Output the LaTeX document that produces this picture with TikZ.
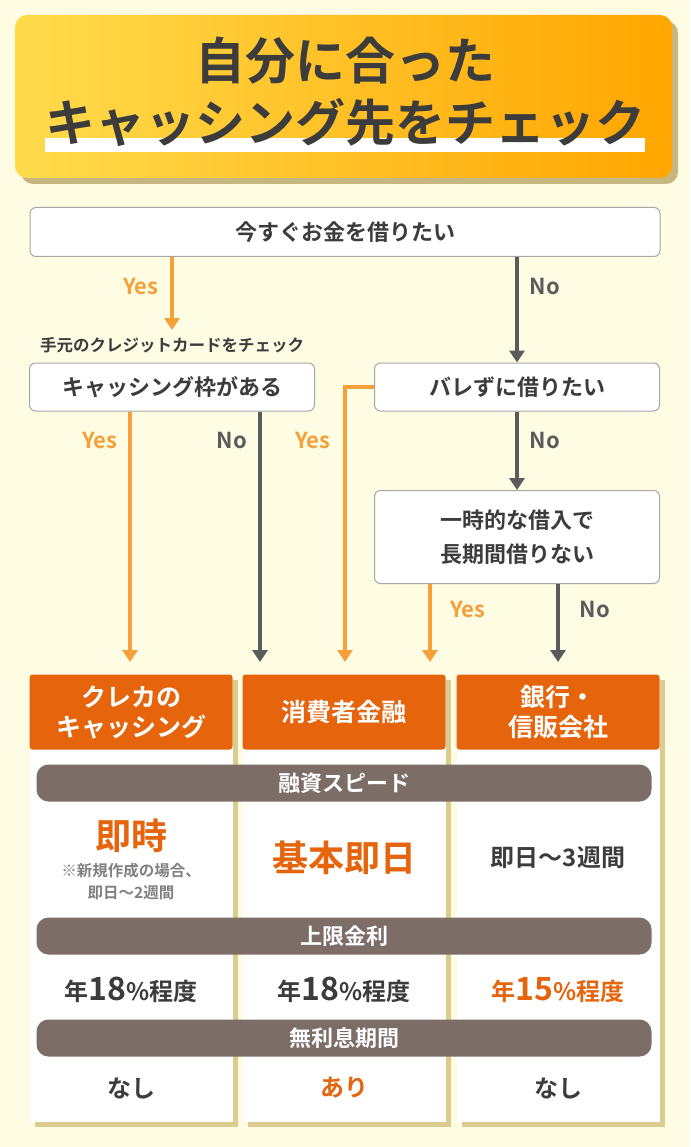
\documentclass[tikz,border=0pt]{standalone}
\usepackage{fontspec}
\setmainfont{Noto Sans CJK JP}[BoldFont={Noto Sans CJK JP Bold}]
\usetikzlibrary{arrows.meta,positioning}
\definecolor{bgcol}{HTML}{FEFCE3}
\definecolor{yesorange}{HTML}{F6A03C}
\definecolor{nogray}{HTML}{5B5B5B}
\definecolor{headorange}{HTML}{E5640C}
\definecolor{barbrown}{HTML}{7C6E67}
\definecolor{tan}{HTML}{DCCB8E}
\definecolor{txtdark}{HTML}{3C3C3C}
\tikzset{
  qbox/.style={draw=gray!70,fill=white,rounded corners=6pt,line width=1pt,font=\bfseries\fontsize{22}{26}\selectfont,text=txtdark,align=center},
  yes/.style={yesorange,line width=3.5pt,-{Triangle[width=15pt,length=12pt]}},
  no/.style={nogray,line width=3.5pt,-{Triangle[width=15pt,length=12pt]}},
  yeslbl/.style={text=yesorange,font=\bfseries\fontsize{22}{24}\selectfont},
  nolbl/.style={text=nogray,font=\bfseries\fontsize{22}{24}\selectfont},
  head/.style={fill=headorange,rounded corners=3pt,minimum width=203pt,minimum height=75pt,text=white,font=\bfseries\fontsize{25}{30}\selectfont,align=center},
  bar/.style={fill=barbrown,rounded corners=12pt,minimum width=615pt,minimum height=37pt,text=white,font=\bfseries\fontsize{22}{24}\selectfont},
  cell/.style={font=\bfseries\fontsize{24}{28}\selectfont,text=txtdark},
}
\begin{document}
\begin{tikzpicture}[x=1pt,y=-1pt]
\useasboundingbox (0,0) rectangle (690,1147);
\fill[bgcol] (0,0) rectangle (690,1147);

% title banner
\fill[tan!90!black,rounded corners=12pt] (21,21) rectangle (678,184);
\shade[rounded corners=12pt,shading angle=135,left color=yellow!60!orange!70,right color=orange!70!yellow] (15,15) rectangle (672,178);
\fill[white] (45,138) rectangle (645,152);
\node[font=\bfseries\fontsize{50}{62}\selectfont,text=txtdark,align=center] (title) at (345,92) {自分に合った\\キャッシング先をチェック};

% questions
\node[qbox,minimum width=630pt,minimum height=49pt] (q1) at (345,232) {今すぐお金を借りたい};
\node[qbox,minimum width=285pt,minimum height=48pt] (q2) at (172,387) {キャッシング枠がある};
\node[qbox,minimum width=285pt,minimum height=48pt] (q3) at (517,387) {バレずに借りたい};
\node[qbox,minimum width=285pt,minimum height=93pt,font=\bfseries\fontsize{22}{34}\selectfont] (q4) at (517,537) {一時的な借入で\\長期間借りない};
\node[font=\bfseries\fontsize{16.5}{18}\selectfont,text=txtdark] (note) at (172,345) {手元のクレジットカードをチェック};

% column cards
\foreach \cx/\nm in {131/c1,344/c2,558/c3}{
  \fill[tan] (\cx-96,680) rectangle (\cx+107,1127);
  \fill[white] (\cx-101,675) rectangle (\cx+102,1122);
}
\node[head] (h1) at (131,712) {クレカの\\キャッシング};
\node[head] (h2) at (344,712) {消費者金融};
\node[head] (h3) at (558,712) {銀行・\\信販会社};

% connectors
\coordinate (e1) at (172,330);
\coordinate (e2) at (130,662);
\coordinate (e3) at (260,662);
\coordinate (e4) at (345,662);
\coordinate (e5) at (430,662);
\coordinate (e6) at (558,662);
\draw[yes] (q1.south -| e1) -- (e1);
\draw[no] (q1.south -| q3) -- (q3.north);
\draw[yes] (q2.south -| e2) -- (e2);
\draw[no] (q2.south -| e3) -- (e3);
\draw[yes] (q3.west) -| (e4);
\draw[no] (q3) -- (q4);
\draw[yes] (q4.south -| e5) -- (e5);
\draw[no] (q4.south -| e6) -- (e6);
\node[yeslbl] (y1) at (141,287) {Yes};
\node[nolbl] (n1) at (545,287) {No};
\node[yeslbl] (y2) at (100,441) {Yes};
\node[nolbl] (n2) at (232,441) {No};
\node[yeslbl] (y3) at (313,441) {Yes};
\node[nolbl] (n3) at (545,441) {No};
\node[yeslbl] (y4) at (468,609) {Yes};
\node[nolbl] (n4) at (595,609) {No};

% rows
\node[bar] (b1) at (344,783) {融資スピード};
\node[bar] (b2) at (344,936) {上限金利};
\node[bar] (b3) at (344,1038) {無利息期間};

\node[cell,text=headorange,font=\bfseries\fontsize{36}{40}\selectfont] (s1) at (131,836) {即時};
\node[font=\bfseries\fontsize{15.5}{22}\selectfont,text=gray,align=center] (s1n) at (131,882) {※新規作成の場合、\\即日〜2週間};
\node[cell,text=headorange,font=\bfseries\fontsize{36}{40}\selectfont] (s2) at (344,858) {基本即日};
\node[cell] (s3) at (558,858) {即日〜3週間};

\node[cell] (r1) at (131,990) {年{\fontsize{32}{32}\selectfont 18}\%程度};
\node[cell] (r2) at (344,990) {年{\fontsize{32}{32}\selectfont 18}\%程度};
\node[cell,text=headorange] (r3) at (558,990) {年{\fontsize{32}{32}\selectfont 15}\%程度};

\node[cell] (f1) at (131,1088) {なし};
\node[cell,text=headorange] (f2) at (344,1088) {あり};
\node[cell] (f3) at (558,1088) {なし};
\end{tikzpicture}
\end{document}
